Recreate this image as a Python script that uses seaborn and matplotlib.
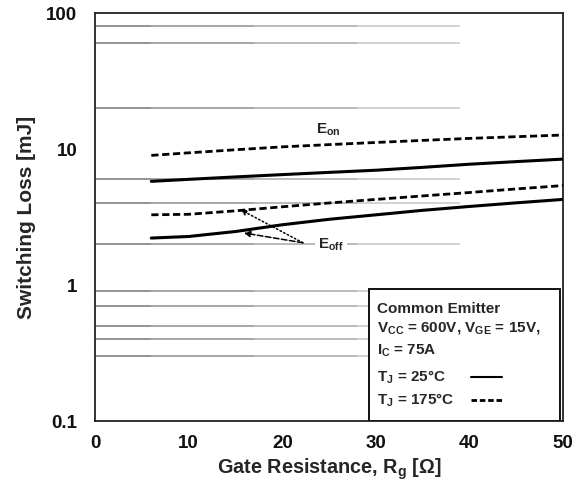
import numpy as np
import pandas as pd
import matplotlib
matplotlib.use("Agg")
import matplotlib.pyplot as plt
import seaborn as sns
from matplotlib.patches import Rectangle

# values
rg = [6, 10, 15, 20, 25, 30, 35, 40, 45, 50]
eon_25 = [5.8, 6.0, 6.25, 6.5, 6.75, 7.0, 7.35, 7.75, 8.1, 8.45]
eon_175 = [9.0, 9.4, 9.9, 10.4, 10.8, 11.2, 11.6, 12.0, 12.35, 12.7]
eoff_25 = [2.22, 2.28, 2.48, 2.78, 3.05, 3.29, 3.55, 3.79, 4.03, 4.27]
eoff_175 = [3.29, 3.32, 3.52, 3.77, 4.02, 4.27, 4.53, 4.8, 5.1, 5.4]

grid_vals = [80, 60, 20, 6, 4, 2, 0.9, 0.7, 0.5, 0.4, 0.3]
y_ticks = [0.1, 1, 10, 100]
y_ticklabels = ["0.1", "1", "10", "100"]
x_ticks = [0, 10, 20, 30, 40, 50]

legend_lines = ["Common Emitter",
                r"V$_{\mathrm{CC}}$ = 600V, V$_{\mathrm{GE}}$ = 15V,",
                r"I$_{\mathrm{C}}$ = 75A",
                r"T$_{\mathrm{J}}$ = 25$\mathrm{\degree}$C",
                r"T$_{\mathrm{J}}$ = 175$\mathrm{\degree}$C"]

sns.set_style("white")
plt.rcParams['font.family'] = ['Liberation Sans', 'DejaVu Sans']
plt.rcParams['mathtext.fontset'] = 'custom'
plt.rcParams['mathtext.rm'] = 'Liberation Sans:bold'
plt.rcParams['mathtext.it'] = 'Liberation Sans:bold'
plt.rcParams['mathtext.bf'] = 'Liberation Sans:bold'

fig, ax = plt.subplots(figsize=(5.84, 4.88), dpi=100)
plt.subplots_adjust(left=0.163, right=0.964, top=0.973, bottom=0.137)

# faded horizontal lines (left part darker)
segs = [(0, 6, '#8a8a8a'), (6, 17, '#a0a0a0'), (17, 28, '#b4b4b4'), (28, 39, '#cfcfcf')]
for g in grid_vals:
    for x0, x1, c in segs:
        ax.hlines(g, x0, x1, color=c, lw=1.3, zorder=1)

df = pd.DataFrame({'Rg': rg * 4,
                   'E': eon_25 + eon_175 + eoff_25 + eoff_175,
                   'curve': ['on25'] * 10 + ['on175'] * 10 + ['off25'] * 10 + ['off175'] * 10})

for name, ls in [('on25', '-'), ('on175', '--'), ('off25', '-'), ('off175', '--')]:
    sub = df[df['curve'] == name]
    if ls == '-':
        sns.lineplot(data=sub, x='Rg', y='E', ax=ax, color='black', lw=2.2, zorder=3)
    else:
        sns.lineplot(data=sub, x='Rg', y='E', ax=ax, color='black', lw=2.0,
                     zorder=3).lines[-1].set_dashes([2.6, 1.3])

ax.set_yscale('log')
ax.set_xlim(0, 50)
ax.set_ylim(0.1, 100)
ax.set_yticks(y_ticks)
ax.set_yticklabels(y_ticklabels)
ax.set_xticks(x_ticks)
ax.yaxis.set_minor_locator(matplotlib.ticker.NullLocator())
ax.tick_params(axis='both', length=0, labelsize=13.5)
ax.tick_params(axis='y', pad=13)
ax.tick_params(axis='x', pad=10)
for lab in ax.get_xticklabels() + ax.get_yticklabels():
    lab.set_fontweight('bold')
    lab.set_color('#111111')

ax.set_xlabel(r"Gate Resistance, R$_{\mathrm{g}}$ [$\Omega$]", fontsize=14.3,
              fontweight='bold', labelpad=3)
ax.set_ylabel("Switching Loss [mJ]", fontsize=15, fontweight='bold', labelpad=7)

for sp in ax.spines.values():
    sp.set_color('#222222')
    sp.set_linewidth(1.3)

# curve labels and arrows
ax.text(24.9, 13.8, r"E$_{\mathrm{on}}$", fontsize=11, fontweight='bold', ha='center', va='center')
ax.text(25.2, 1.98, r"E$_{\mathrm{off}}$", fontsize=11, fontweight='bold', ha='center', va='center',
        bbox=dict(facecolor='white', edgecolor='none', pad=2), zorder=2)
ax.annotate("", xy=(15.5, 3.6), xytext=(22.2, 2.05),
            arrowprops=dict(arrowstyle='-|>', ls=':', color='black', lw=1.1,
                            mutation_scale=9, shrinkA=0, shrinkB=0))
ax.annotate("", xy=(15.9, 2.42), xytext=(22.2, 2.05),
            arrowprops=dict(arrowstyle='-|>', ls='--', color='black', lw=1.1,
                            mutation_scale=9, shrinkA=0, shrinkB=0))

# condition box
ax.add_patch(Rectangle((29.3, 0.1), 20.4, 0.94 - 0.1, fill=True, facecolor='white',
                       edgecolor='#111111', lw=1.4, zorder=4))
text_y = [0.667, 0.483, 0.327, 0.211, 0.1426]
for t, yy in zip(legend_lines, text_y):
    ax.text(30.1, yy, t, fontsize=11, fontweight='bold', ha='left', va='center', zorder=5)
ax.plot([40.2, 43.5], [0.211, 0.211], color='black', lw=1.5, zorder=5)
ax.plot([40.2, 43.5], [0.1426, 0.1426], color='black', lw=2.0, dashes=[2, 1], zorder=5)

plt.savefig("out.png", dpi=100)
